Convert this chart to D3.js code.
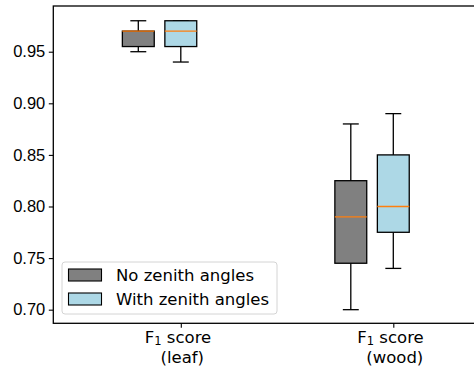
<!DOCTYPE html>
<html>
<head>
<meta charset="utf-8">
<script src="https://cdn.jsdelivr.net/npm/d3@7"></script>
<style>
  html, body { margin: 0; padding: 0; background: #fff; }
  svg { display: block; font-family: "DejaVu Sans", sans-serif; }
</style>
</head>
<body>
<svg id="chart" width="474" height="370"></svg>
<script>
// Groups on the x axis and their axis positions
const categories = ["leaf", "wood"];
const categoryPos = [1, 2];

// Series: box statistics per category as [whisker low, Q1, median, Q3, whisker high]
const seriesNames = ["No zenith angles", "With zenith angles"];
const seriesColors = ["#808080", "#add8e6"];
const seriesOffset = [-0.2, 0];
const noZenith = [
  [0.95, 0.955, 0.97, 0.97, 0.98],
  [0.70, 0.745, 0.79, 0.825, 0.88]
];
const withZenith = [
  [0.94, 0.955, 0.97, 0.98, 0.98],
  [0.74, 0.775, 0.80, 0.85, 0.89]
];
const seriesStats = [noZenith, withZenith];

const yTicks = [0.70, 0.75, 0.80, 0.85, 0.90, 0.95];

const svg = d3.select("#chart");
const plot = { left: 53.3, top: 6, bottom: 323.3 };
const fs = 16.5;

const x = d3.scaleLinear().domain([0.4, 2.6]).range([plot.left, plot.left + 2.2 * 212.5]);
const y = d3.scaleLinear().domain([0.6868, 0.9943]).range([plot.bottom, plot.top]);

const boxW = 0.15;
const ink = "#000";

// Boxes
seriesStats.forEach((stats, si) => {
  const g = svg.append("g");
  stats.forEach((s, ci) => {
    const cx = x(categoryPos[ci] + seriesOffset[si]);
    const half = (x(boxW) - x(0)) / 2;
    const [lo, q1, med, q3, hi] = s;
    // whiskers
    g.append("line").attr("x1", cx).attr("x2", cx).attr("y1", y(q1)).attr("y2", y(lo))
      .attr("stroke", ink).attr("stroke-width", 1.3);
    g.append("line").attr("x1", cx).attr("x2", cx).attr("y1", y(q3)).attr("y2", y(hi))
      .attr("stroke", ink).attr("stroke-width", 1.3);
    // caps
    [lo, hi].forEach(v => {
      g.append("line").attr("x1", cx - half / 2).attr("x2", cx + half / 2)
        .attr("y1", y(v)).attr("y2", y(v)).attr("stroke", ink).attr("stroke-width", 1.3);
    });
    // box
    g.append("rect").attr("x", cx - half).attr("width", 2 * half)
      .attr("y", y(q3)).attr("height", y(q1) - y(q3))
      .attr("fill", seriesColors[si]).attr("stroke", ink).attr("stroke-width", 1.3);
    // median
    g.append("line").attr("x1", cx - half).attr("x2", cx + half)
      .attr("y1", y(med)).attr("y2", y(med)).attr("stroke", "#ff7f0e").attr("stroke-width", 1.3);
  });
});

// Axes
const yAxis = d3.axisLeft(y).tickValues(yTicks).tickFormat(d3.format(".2f")).tickSize(4.5).tickPadding(3.5);
const gy = svg.append("g").attr("transform", `translate(${plot.left},0)`).call(yAxis);
gy.select(".domain").remove();
gy.selectAll("line").attr("stroke", ink).attr("stroke-width", 1.1);
gy.selectAll("text").attr("font-size", fs).attr("fill", ink);

const xAxis = d3.axisBottom(x).tickValues(categoryPos).tickFormat("").tickSize(4.5);
const gx = svg.append("g").attr("transform", `translate(0,${plot.bottom})`).call(xAxis);
gx.select(".domain").remove();
gx.selectAll("line").attr("stroke", ink).attr("stroke-width", 1.1);

// Spines
svg.append("rect").attr("x", plot.left).attr("y", plot.top)
  .attr("width", x.range()[1] - plot.left).attr("height", plot.bottom - plot.top)
  .attr("fill", "none").attr("stroke", ink).attr("stroke-width", 1.3);

// Category labels: "F1 score" with subscript on one line, the group name below
categories.forEach((c, i) => {
  const cx = x(categoryPos[i]);
  const t = svg.append("text").attr("y", 342.5)
    .attr("font-size", fs).attr("fill", ink);
  const l1 = t.append("tspan").attr("x", cx - 36);
  l1.append("tspan").text("F");
  l1.append("tspan").attr("font-size", 11.5).attr("dy", 2.5).text("1");
  l1.append("tspan").attr("dy", -2.5).text(" score");
  t.append("tspan").attr("x", cx + 1.5).attr("y", 363.3)
    .attr("text-anchor", "middle").text(`(${c})`);
});

// Legend
const lg = svg.append("g");
lg.append("rect").attr("x", 62).attr("y", 262).attr("width", 215).attr("height", 52)
  .attr("rx", 3).attr("fill", "#fff").attr("fill-opacity", 0.8)
  .attr("stroke", "#d4d4d4").attr("stroke-width", 1);
seriesNames.forEach((name, i) => {
  const yy = 269 + i * 24;
  lg.append("rect").attr("x", 68.5).attr("y", yy).attr("width", 33).attr("height", 12)
    .attr("fill", seriesColors[i]).attr("stroke", ink).attr("stroke-width", 1.1);
  lg.append("text").attr("x", 116).attr("y", yy + 12).attr("font-size", fs)
    .attr("fill", ink).text(name);
});
</script>
</body>
</html>
